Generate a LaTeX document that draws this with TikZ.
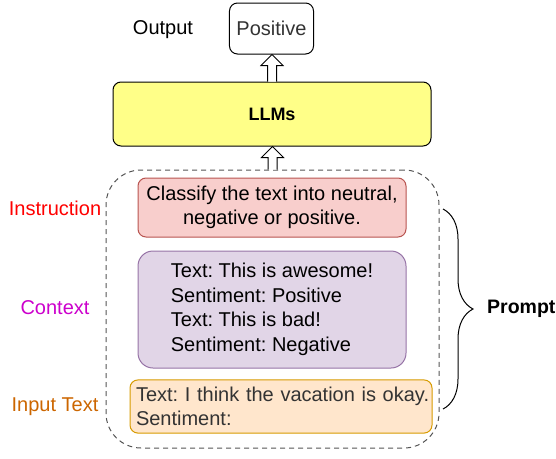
\documentclass[tikz,border=0pt]{standalone}
\usepackage{fontspec}
\setmainfont{Liberation Sans}
\usepackage{tikz}
\usetikzlibrary{calc,decorations.pathreplacing}
\frenchspacing
\definecolor{llmfill}{HTML}{FFFF88}
\definecolor{insfill}{HTML}{F8CECC}
\definecolor{insline}{HTML}{B85450}
\definecolor{ctxfill}{HTML}{E1D5E7}
\definecolor{ctxline}{HTML}{9673A6}
\definecolor{inpfill}{HTML}{FFE6CC}
\definecolor{inpline}{HTML}{D79B00}
\definecolor{textgray}{HTML}{333333}
\definecolor{dashgray}{HTML}{555555}
\tikzstyle{every node}=[font=\fontsize{20}{24.5}\selectfont]
\tikzstyle{box}=[draw,rounded corners=8pt,line width=1pt,inner sep=7pt]
\tikzstyle{hollow}=[draw,fill=white,line width=1pt,line join=miter]
\newcommand{\hollowup}[2]{%
  \draw[hollow] ($(#1)+(-4.5,0)$) -- ($(#1|-#2)+(-4.5,11)$)
    -- ($(#1|-#2)+(-11,11)$) -- (#1|-#2) -- ($(#1|-#2)+(11,11)$)
    -- ($(#1|-#2)+(4.5,11)$) -- ($(#1)+(4.5,0)$);}

\begin{document}
\begin{tikzpicture}[x=1pt,y=-1pt]
  \useasboundingbox (0,0) rectangle (556,458);
  \node(out)[box,text=textgray,minimum width=83pt,minimum height=51pt] at (271.5,28.5){Positive};
  \node(outlbl) at (163,30){Output};
  \node(llm)[box,fill=llmfill,minimum width=318pt,minimum height=64pt,
             font=\fontsize{18}{22}\selectfont\bfseries] at (272,114){LLMs};
  \node(pbox)[draw=dashgray,dash pattern=on 5pt off 4pt,rounded corners=35pt,line width=1pt,
              minimum width=333pt,minimum height=278pt] at (272.5,309){};
  \node(ins)[box,fill=insfill,draw=insline,align=center,
             minimum width=268pt,minimum height=59pt] at (272,207.5)
            {Classify the text into neutral,\\negative or positive.};
  \node(ctx)[box,fill=ctxfill,draw=ctxline,rounded corners=15pt,align=left,
             minimum width=268pt,minimum height=117pt] at (272,309.5)
            {Text: This is awesome!\\Sentiment: Positive\\Text: This is bad!\\Sentiment: Negative};
  \node(inp)[box,fill=inpfill,draw=inpline,text=textgray,align=left,inner xsep=6pt,
             text width=290pt,minimum height=51pt] at (281,406.5)
            {\mbox{Text: I think the vacation is okay.}\\Sentiment:};
  \node(inslbl)[text=red] at (55,208){Instruction};
  \node(ctxlbl)[text={rgb,255:red,204;green,0;blue,204}] at (55,308){Context};
  \node(inplbl)[text={rgb,255:red,204;green,102;blue,0}] at (55,407){Input Text};
  % arrows between the layers
  \hollowup{llm.north}{out.south}
  \hollowup{pbox.north}{llm.south}
  % brace round the prompt
  \coordinate(bt) at (443,209);
  \coordinate(bb) at (443,409);
  \draw[decorate,decoration={brace,amplitude=30pt},line width=1pt] (bt) -- (bb);
  \node(plbl)[anchor=west,inner sep=0pt,font=\fontsize{19.5}{24}\selectfont\bfseries] at (487,309){Prompt};
\end{tikzpicture}
\end{document}
